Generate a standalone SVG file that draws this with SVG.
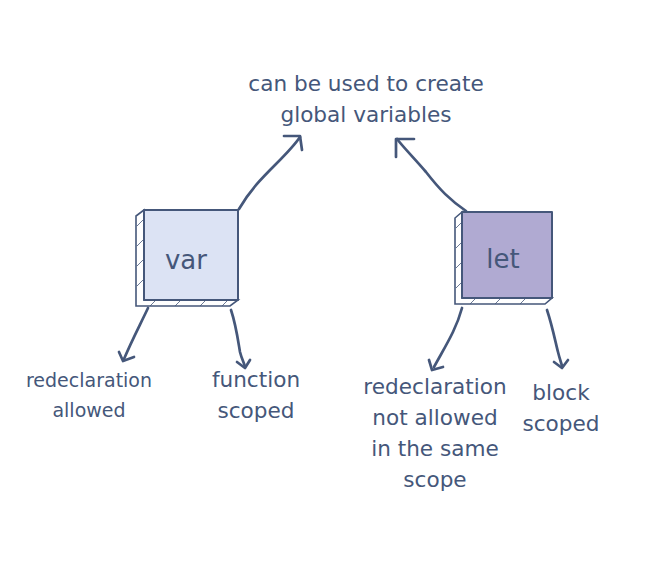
<svg xmlns="http://www.w3.org/2000/svg" width="648" height="566" viewBox="0 0 648 566">
<style>
text{font-family:"DejaVu Sans","Verdana",sans-serif;fill:#45577a;text-anchor:middle}
.l{font-size:21.6px}
.s{font-size:19px}
.b{font-size:26px}
.edge{fill:none;stroke:#45577a;stroke-width:2.7;stroke-linecap:round;stroke-linejoin:round}
.box{stroke:#45577a;stroke-width:2;stroke-linejoin:round}
.side{fill:#ffffff;stroke:#45577a;stroke-width:1.6}
.hatch{stroke:#45577a;stroke-width:0.8}
</style>
<rect width="648" height="566" fill="#ffffff"/>
<g id="top-label">
<text class="l" x="366" y="91">can be used to create</text>
<text class="l" x="366" y="122">global variables</text>
</g>
<g id="var">
<path class="side" d="M144,210 L136,216 L136,306 L230,306 L238,300 L144,300 Z"/>
<path class="hatch" d="M137,226 l6,-6 M137,246 l6,-6 M137,266 l6,-6 M137,286 l6,-6 M150,306 l5,-5 M175,306 l5,-5 M200,306 l5,-5 M222,306 l5,-5"/>
<rect class="box" x="144" y="210" width="94" height="90" fill="#dce3f4"/>
<text class="b" x="186" y="269">var</text>
</g>
<g id="let">
<path class="side" d="M462,212 L455,218 L455,304 L545,304 L552,298 L462,298 Z"/>
<path class="hatch" d="M456,228 l5,-5 M456,248 l5,-5 M456,268 l5,-5 M456,288 l5,-5 M470,304 l5,-5 M495,304 l5,-5 M520,304 l5,-5"/>
<rect class="box" x="462" y="212" width="90" height="86" fill="#b0aad2"/>
<text class="b" x="503" y="268">let</text>
</g>
<g id="var-labels">
<text class="s" x="89" y="387">redeclaration</text>
<text class="s" x="89" y="417">allowed</text>
<text class="l" x="256" y="387">function</text>
<text class="l" x="256" y="418">scoped</text>
</g>
<g id="let-labels">
<text class="l" x="435" y="394">redeclaration</text>
<text class="l" x="435" y="425">not allowed</text>
<text class="l" x="435" y="456">in the same</text>
<text class="l" x="435" y="487">scope</text>
<text class="l" x="561" y="400">block</text>
<text class="l" x="561" y="431">scoped</text>
</g>
<g id="connectors">
<path class="edge" d="M239,209 C250,190 262,178 276,164 C288,152 294,146 300,137"/>
<path class="edge" d="M284,136 L300,136 L302,150"/>
<path class="edge" d="M466,211 C450,200 440,190 426,172 C414,158 404,148 397,139"/>
<path class="edge" d="M396,157 L396,139 L414,139"/>
<path class="edge" d="M148,308 C140,325 132,340 124,359"/>
<path class="edge" d="M119,352 L123,361 L134,357"/>
<path class="edge" d="M231,310 C236,325 238,340 240,352 C242,360 244,362 245,367"/>
<path class="edge" d="M237,362 L245,368 L250,360"/>
<path class="edge" d="M462,308 C456,330 446,345 434,367"/>
<path class="edge" d="M429,360 L432,370 L443,367"/>
<path class="edge" d="M547,310 C552,325 555,340 558,352 C560,360 561,362 562,366"/>
<path class="edge" d="M554,362 L562,368 L568,360"/>
</g>
</svg>
